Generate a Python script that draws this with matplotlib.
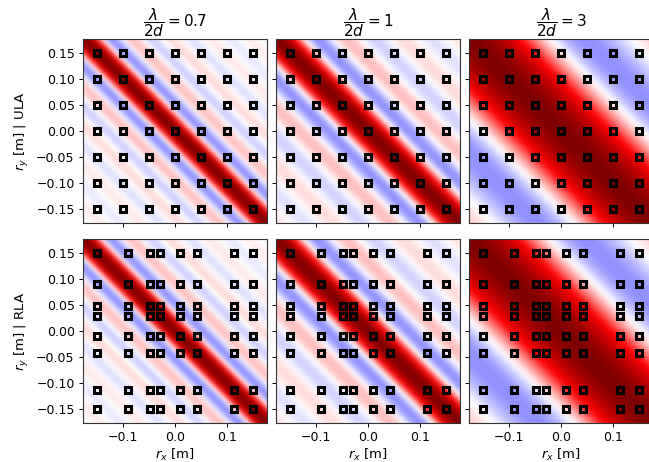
import numpy as np
import matplotlib
matplotlib.use("Agg")
import matplotlib.pyplot as plt
from matplotlib.transforms import Affine2D

# Profile read across the diagonal bands, from the band centre outward
profile_07 = [1, .911, .672, .357, .059, -.144, -.217, -.171, -.057, .057, .122, .117, .057,
              -.022, -.079, -.089, -.054, .002, .055, .071, .051, .008, -.036, -.057, -.048,
              -.016, .021, .045, .044, .021, -.012, -.037, -.041, -.025, .004, .029, .037,
              .027, .002, -.022, -.033]
profile_1 = [1, .956, .832, .647, .429, .208, .017, -.123, -.201, -.215, -.176, -.102, -.017,
             .060, .111, .128, .113, .071, .015, -.037, -.075, -.091, -.083, -.056, -.016,
             .026, .055, .070, .067, .048, .017, -.017, -.043, -.057, -.055, -.041, -.016,
             .013, .036, .047, .048]
profile_3 = [1, .995, .979, .952, .916, .870, .818, .757, .691, .619, .544, .466, .388, .310,
             .234, .162, .093, .030, -.027, -.077, -.120, -.155, -.182, -.202, -.213, -.217,
             -.214, -.204, -.189, -.170, -.146, -.119, -.090, -.060, -.030, -.001, .027,
             .053, .076, .094, .107]
profiles = [profile_07, profile_1, profile_3]
titles = [r"$\dfrac{\lambda}{2d} = 0.7$", r"$\dfrac{\lambda}{2d} = 1$", r"$\dfrac{\lambda}{2d} = 3$"]
row_labels = ["ULA", "RLA"]
ula_x = [-0.15, -0.10, -0.05, 0.0, 0.05, 0.10, 0.15]
ula_y = [-0.15, -0.10, -0.05, 0.0, 0.05, 0.10, 0.15]
rla_x = [-0.15, -0.09, -0.048, -0.028, 0.01, 0.042, 0.114, 0.15]
rla_y = [-0.15, -0.114, -0.042, -0.01, 0.028, 0.048, 0.09, 0.15]
element_x = [ula_x, rla_x]
element_y = [ula_y, rla_y]
x_ticks = [-0.1, 0.0, 0.1]
y_ticks = [-0.15, -0.10, -0.05, 0.0, 0.05, 0.10, 0.15]
half_range = 0.177

plt.rcParams["font.size"] = 9
W, H = 649, 462
fig = plt.figure(figsize=(W / 100, H / 100), dpi=100)
lefts = [83, 276, 469]
tops = [39, 239]
size = 184

step = 2 * half_range / (len(profile_07) - 1)
u_lim = 2 * half_range + step / 2
to_xy = Affine2D(np.array([[0.5, 0.5, 0.0], [0.5, -0.5, 0.0], [0.0, 0.0, 1.0]]))

for r in range(2):
    for c, prof in enumerate(profiles):
        ax = fig.add_axes([lefts[c] / W, 1 - (tops[r] + size) / H, size / W, size / H])
        p = np.array(prof)
        strip = np.tile(np.r_[p[:0:-1], p], (40, 1))
        ax.imshow(strip, cmap="seismic", vmin=-1, vmax=1, interpolation="bicubic",
                  extent=[-u_lim, u_lim, -0.6, 0.6], aspect="auto",
                  transform=to_xy + ax.transData, clip_on=True)
        gx, gy = np.meshgrid(element_x[r], element_y[r])
        ax.plot(gx.ravel(), gy.ravel(), ls="none", marker="s", ms=5, mfc="none",
                mec="black", mew=2.2)
        ax.set_xlim(-half_range, half_range)
        ax.set_ylim(-half_range, half_range)
        ax.set_xticks(x_ticks)
        ax.set_yticks(y_ticks)
        ax.tick_params(labelsize=9, length=3, width=0.7, pad=3,
                       labelleft=c == 0, labelbottom=r == 1)
        for s in ax.spines.values():
            s.set_linewidth(0.8)
            s.set_color("#333333")
        if c == 0:
            ax.set_yticklabels([f"{v:.2f}".replace("-", "\u2212") for v in y_ticks])
            ax.set_ylabel(rf"$r_y$ [m] | {row_labels[r]}", fontsize=9.5)
        if r == 1:
            ax.set_xlabel(r"$r_x$ [m]", fontsize=9.5, labelpad=2)
        if r == 0:
            ax.set_title(titles[c], fontsize=11, pad=1)

fig.savefig("out.png", dpi=100)
